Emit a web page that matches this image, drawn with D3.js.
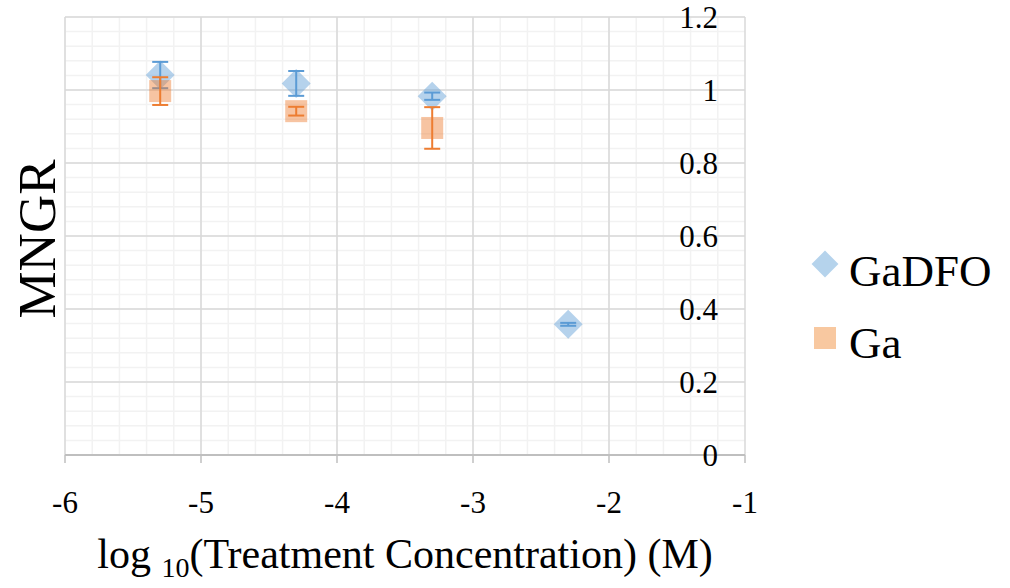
<!DOCTYPE html>
<html>
<head>
<meta charset="utf-8">
<script src="https://cdn.jsdelivr.net/npm/d3@7"></script>
<style>
  body { margin: 0; background: #fff; }
  svg text { font-family: "Liberation Serif", "Times New Roman", serif; fill: #000; }
</style>
</head>
<body>
<div id="chart"></div>
<script>
// data
const seriesNames = ["GaDFO", "Ga"];
const gadfoX = [-5.3, -4.3, -3.3, -2.3];
const gadfoY = [1.041, 1.018, 0.983, 0.358];
const gadfoErr = [0.036, 0.034, 0.01, 0.004];
const gaX = [-5.3, -4.3, -3.3];
const gaY = [0.997, 0.942, 0.896];
const gaErr = [0.038, 0.012, 0.057];
const xTicks = [-6, -5, -4, -3, -2, -1];
const yTicks = [0, 0.2, 0.4, 0.6, 0.8, 1, 1.2];

const width = 1010, height = 588;
const margin = { top: 17, right: 265, bottom: 133, left: 65 };
const serif = "'Liberation Serif', 'Times New Roman', serif";

const svg = d3.select("#chart").append("svg")
    .attr("width", width)
    .attr("height", height);

const x = d3.scaleLinear().domain([-6, -1]).range([margin.left, width - margin.right]);
const y = d3.scaleLinear().domain([0, 1.2]).range([height - margin.bottom, margin.top]);

const grid = svg.append("g");

// minor gridlines
grid.selectAll(".minor-x")
    .data(d3.range(-6, -1.0001, 0.2))
    .enter().append("line")
    .attr("x1", d => x(d)).attr("x2", d => x(d))
    .attr("y1", y(0)).attr("y2", y(1.2))
    .attr("stroke", "#f2f2f2").attr("stroke-width", 1.5);

grid.selectAll(".minor-y")
    .data(d3.range(0, 1.2001, 0.04))
    .enter().append("line")
    .attr("x1", x(-6)).attr("x2", x(-1))
    .attr("y1", d => y(d)).attr("y2", d => y(d))
    .attr("stroke", "#f2f2f2").attr("stroke-width", 1.5);

// major gridlines
grid.selectAll(".major-x")
    .data(xTicks)
    .enter().append("line")
    .attr("x1", d => x(d)).attr("x2", d => x(d))
    .attr("y1", y(0)).attr("y2", y(1.2))
    .attr("stroke", "#d9d9d9").attr("stroke-width", 1.5);

grid.selectAll(".major-y")
    .data(yTicks)
    .enter().append("line")
    .attr("x1", x(-6)).attr("x2", x(-1))
    .attr("y1", d => y(d)).attr("y2", d => y(d))
    .attr("stroke", "#d9d9d9").attr("stroke-width", 1.5);

// x axis line + ticks
svg.append("line")
    .attr("x1", x(-6)).attr("x2", x(-1))
    .attr("y1", y(0)).attr("y2", y(0))
    .attr("stroke", "#bfbfbf").attr("stroke-width", 2);

svg.selectAll(".xtick")
    .data(xTicks)
    .enter().append("line")
    .attr("x1", d => x(d)).attr("x2", d => x(d))
    .attr("y1", y(0)).attr("y2", y(0) + 8)
    .attr("stroke", "#bfbfbf").attr("stroke-width", 1.5);

// x tick labels
svg.selectAll(".xlab")
    .data(xTicks)
    .enter().append("text")
    .attr("x", d => x(d))
    .attr("y", 513)
    .attr("text-anchor", "middle")
    .attr("font-family", serif)
    .attr("font-size", "31px")
    .text(d => d);

// y tick labels (axis sits at the right edge)
svg.selectAll(".ylab")
    .data(yTicks)
    .enter().append("text")
    .attr("x", 718)
    .attr("y", d => y(d))
    .attr("dy", "0.35em")
    .attr("text-anchor", "end")
    .attr("font-family", serif)
    .attr("font-size", "31px")
    .text(d => d);

// error bars + markers
function drawSeries(xs, ys, es, color, shape) {
    const g = svg.append("g");
    const pts = xs.map((v, i) => ({ x: v, y: ys[i], e: es[i] }));

    g.selectAll("path.marker")
        .data(pts)
        .enter().append("path")
        .attr("d", d3.symbol().type(d3.symbolSquare).size(shape === "diamond" ? 420 : 484)())
        .attr("transform", d => `translate(${x(d.x)},${y(d.y)})` + (shape === "diamond" ? " rotate(45)" : ""))
        .attr("fill", color)
        .attr("fill-opacity", 0.45);

    g.selectAll("line.err")
        .data(pts)
        .enter().append("line")
        .attr("x1", d => x(d.x)).attr("x2", d => x(d.x))
        .attr("y1", d => y(d.y - d.e)).attr("y2", d => y(d.y + d.e))
        .attr("stroke", color).attr("stroke-width", 2);

    [1, -1].forEach(s => {
        g.selectAll(null)
            .data(pts)
            .enter().append("line")
            .attr("x1", d => x(d.x) - 8).attr("x2", d => x(d.x) + 8)
            .attr("y1", d => y(d.y + s * d.e)).attr("y2", d => y(d.y + s * d.e))
            .attr("stroke", color).attr("stroke-width", 2);
    });
}

drawSeries(gadfoX, gadfoY, gadfoErr, "#5b9bd5", "diamond");
drawSeries(gaX, gaY, gaErr, "#ed7d31", "square");

// axis titles
svg.append("text")
    .attr("transform", "translate(55,239) rotate(-90)")
    .attr("text-anchor", "middle")
    .attr("font-family", serif)
    .attr("font-size", "53px")
    .text("MNGR");

const xt = svg.append("text")
    .attr("x", 405)
    .attr("y", 568)
    .attr("text-anchor", "middle")
    .attr("font-family", serif)
    .attr("font-size", "42px");
xt.append("tspan").text("log ");
xt.append("tspan").attr("font-size", "28px").attr("dy", "9").text("10");
xt.append("tspan").attr("dy", "-9").text("(Treatment Concentration) (M)");

// legend
const legend = svg.append("g");
legend.append("path")
    .attr("d", d3.symbol().type(d3.symbolSquare).size(360)())
    .attr("transform", "translate(825,264) rotate(45)")
    .attr("fill", "#b5d3ec");
legend.append("text")
    .attr("x", 849).attr("y", 286)
    .attr("font-family", serif)
    .attr("font-size", "45px")
    .text(seriesNames[0]);
legend.append("rect")
    .attr("x", 814).attr("y", 327)
    .attr("width", 22).attr("height", 22)
    .attr("fill", "#f8c8a0");
legend.append("text")
    .attr("x", 849).attr("y", 358)
    .attr("font-family", serif)
    .attr("font-size", "45px")
    .text(seriesNames[1]);
</script>
</body>
</html>
